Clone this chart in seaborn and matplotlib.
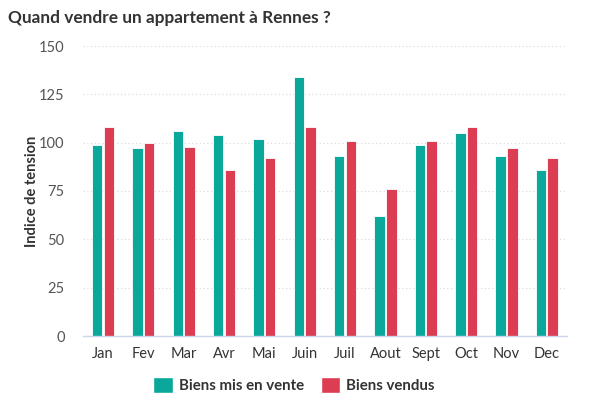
import matplotlib
matplotlib.use("Agg")
import matplotlib.pyplot as plt
import seaborn as sns
import pandas as pd
import numpy as np
from matplotlib.ticker import FixedLocator
from matplotlib.patches import Patch

months = ["Jan", "Fev", "Mar", "Avr", "Mai", "Juin", "Juil", "Aout", "Sept", "Oct", "Nov", "Dec"]
mis_en_vente = [99, 97, 106, 104, 102, 134, 93, 62, 99, 105, 93, 86]
vendus = [108, 100, 98, 86, 92, 108, 101, 76, 101, 108, 97, 92]
series_names = ["Biens mis en vente", "Biens vendus"]
colors = ["#0aa89b", "#dc3d52"]
yticks = [0, 25, 50, 75, 100, 125, 150]

df = pd.DataFrame({
    "mois": months * 2,
    "valeur": mis_en_vente + vendus,
    "serie": [series_names[0]] * len(months) + [series_names[1]] * len(months),
})

sns.set_theme(style="white")
plt.rcParams["font.family"] = ["Lato", "DejaVu Sans"]

fig = plt.figure(figsize=(6, 4), dpi=100)
ax = fig.add_axes([0.138, 0.16, 0.807, 0.725])

sns.barplot(data=df, x="mois", y="valeur", hue="serie", palette=colors, saturation=1,
            width=0.58, gap=0.1, ax=ax, legend=False, edgecolor="white", linewidth=0.6)

ax.set_ylim(0, 150)
ax.set_xlim(-0.5, len(months) - 0.5)
ax.set_yticks(yticks)
ax.set_yticklabels([str(t) for t in yticks], color="#555555", fontsize=10.5)
ax.tick_params(axis="y", length=0, pad=13)
ax.tick_params(axis="x", which="major", length=0, pad=8, labelsize=10.5, labelcolor="#333333")
ax.xaxis.set_minor_locator(FixedLocator(np.arange(-0.5, len(months), 1.0)))
ax.tick_params(axis="x", which="minor", length=5, color="#ccd6eb", width=1)

ax.yaxis.grid(True, linestyle=(0, (1, 2)), color="#dcdcdc", linewidth=0.9)
ax.set_axisbelow(True)
for s in ["top", "right", "left"]:
    ax.spines[s].set_visible(False)
ax.spines["bottom"].set_color("#ccd6eb")
ax.spines["bottom"].set_linewidth(1)

ax.set_xlabel("")
ax.set_ylabel("Indice de tension", fontsize=10.5, fontweight="bold", color="#333333")
ax.yaxis.set_label_coords(-0.09, 0.5)

fig.text(0.013, 0.955, "Quand vendre un appartement à Rennes ?", fontsize=12.4,
         fontweight="bold", color="#333333", ha="left", va="center")

handles = [Patch(facecolor=c, edgecolor="white") for c in colors]
fig.legend(handles, series_names, loc="center", bbox_to_anchor=(0.49, 0.037), ncol=2,
           frameon=False, prop={"weight": "bold", "size": 10.8}, handlelength=1.3,
           handleheight=1.3, handletextpad=0.4, columnspacing=1.1)
for t in fig.legends[0].get_texts():
    t.set_color("#333333")

fig.savefig("out.png", dpi=100)
